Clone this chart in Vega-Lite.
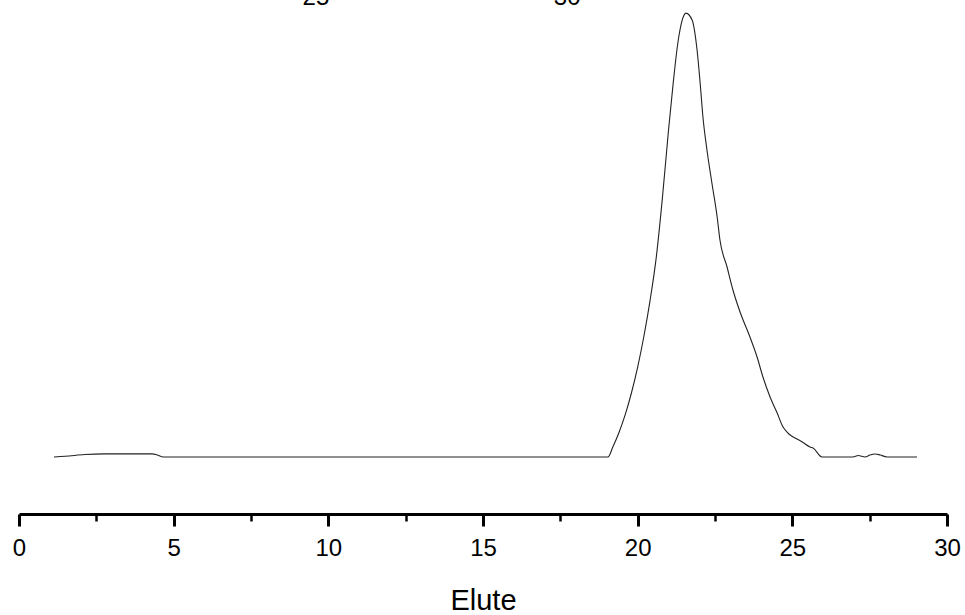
{
  "$schema": "https://vega.github.io/schema/vega-lite/v6.json",
  "autosize": "none",
  "width": 928,
  "height": 514,
  "padding": {"left": 19, "top": 0, "right": 18, "bottom": 101},
  "background": "white",
  "config": {"view": {"stroke": null}, "font": "Liberation Sans"},
  "datasets": {
    "curve": [
      {"t": 1.13, "v": 0}, {"t": 1.49, "v": 0.15}, {"t": 2.13, "v": 0.55}, {"t": 2.75, "v": 0.7},
      {"t": 4.30, "v": 0.7}, {"t": 4.49, "v": 0.4}, {"t": 4.66, "v": 0}, {"t": 19.04, "v": 0},
      {"t": 19.20, "v": 2.3}, {"t": 19.40, "v": 5.6}, {"t": 19.60, "v": 9.6}, {"t": 19.80, "v": 14.5},
      {"t": 20.00, "v": 20.3}, {"t": 20.20, "v": 27.2}, {"t": 20.40, "v": 35.3}, {"t": 20.60, "v": 45.0},
      {"t": 20.80, "v": 58.5}, {"t": 21.00, "v": 74.0}, {"t": 21.15, "v": 84.5}, {"t": 21.30, "v": 93.5},
      {"t": 21.44, "v": 98.6}, {"t": 21.56, "v": 100.2},
      {"t": 21.76, "v": 98.65}, {"t": 21.92, "v": 91.87}, {"t": 22.02, "v": 84.42}, {"t": 22.11, "v": 76.75},
      {"t": 22.24, "v": 69.30}, {"t": 22.40, "v": 61.85}, {"t": 22.57, "v": 54.18}, {"t": 22.66, "v": 48.98},
      {"t": 22.89, "v": 42.89}, {"t": 23.08, "v": 37.70}, {"t": 23.31, "v": 32.73}, {"t": 23.63, "v": 27.09},
      {"t": 23.86, "v": 22.57}, {"t": 24.05, "v": 18.06}, {"t": 24.28, "v": 13.54}, {"t": 24.51, "v": 9.93},
      {"t": 24.70, "v": 6.77}, {"t": 24.83, "v": 5.64}, {"t": 24.93, "v": 4.97}, {"t": 25.09, "v": 4.29},
      {"t": 25.32, "v": 3.39}, {"t": 25.57, "v": 2.26}, {"t": 25.67, "v": 2.03}, {"t": 25.96, "v": 0},
      {"t": 26.96, "v": 0}, {"t": 27.13, "v": 0.34}, {"t": 27.35, "v": 0}, {"t": 27.51, "v": 0.45},
      {"t": 27.68, "v": 0.68}, {"t": 27.84, "v": 0.45}, {"t": 28.06, "v": 0}, {"t": 29.03, "v": 0}
    ],
    "stray": [
      {"t": 9.60, "v": 102.0, "label": "25"},
      {"t": 17.72, "v": 102.0, "label": "30"}
    ]
  },
  "layer": [
    {
      "data": {"name": "curve"},
      "mark": {"type": "line", "color": "#222222", "strokeWidth": 1.1, "clip": false, "interpolate": "monotone"},
      "encoding": {
        "x": {
          "field": "t", "type": "quantitative",
          "scale": {"domain": [0, 30], "nice": false, "zero": false},
          "axis": {
            "orient": "bottom",
            "values": [0, 5, 10, 15, 20, 25, 30],
            "grid": false,
            "domainColor": "black", "domainWidth": 3,
            "tickColor": "black", "tickWidth": 3, "tickSize": 12,
            "labelFont": "Liberation Sans", "labelFontSize": 24, "labelColor": "black", "labelPadding": 10,
            "labelFlush": false, "labelOverlap": false,
            "title": "Elute", "titleFont": "Liberation Sans", "titleFontSize": 29, "titleFontWeight": "normal",
            "titleColor": "black", "titlePadding": 26
          }
        },
        "y": {
          "field": "v", "type": "quantitative",
          "scale": {"domain": [-12.87, 103.16], "nice": false, "zero": false},
          "axis": null
        }
      }
    },
    {
      "data": {"name": "stray"},
      "mark": {"type": "text", "font": "Liberation Sans", "fontSize": 24, "color": "black", "baseline": "alphabetic", "align": "center", "clip": false},
      "encoding": {
        "x": {
          "field": "t", "type": "quantitative",
          "axis": {
            "orient": "bottom",
            "values": [2.5, 7.5, 12.5, 17.5, 22.5, 27.5],
            "grid": false, "domain": false, "labels": false, "title": null,
            "tickColor": "black", "tickWidth": 2.5, "tickSize": 7
          }
        },
        "y": {"field": "v", "type": "quantitative", "axis": null},
        "text": {"field": "label"}
      }
    }
  ],
  "resolve": {"axis": {"x": "independent"}}
}
